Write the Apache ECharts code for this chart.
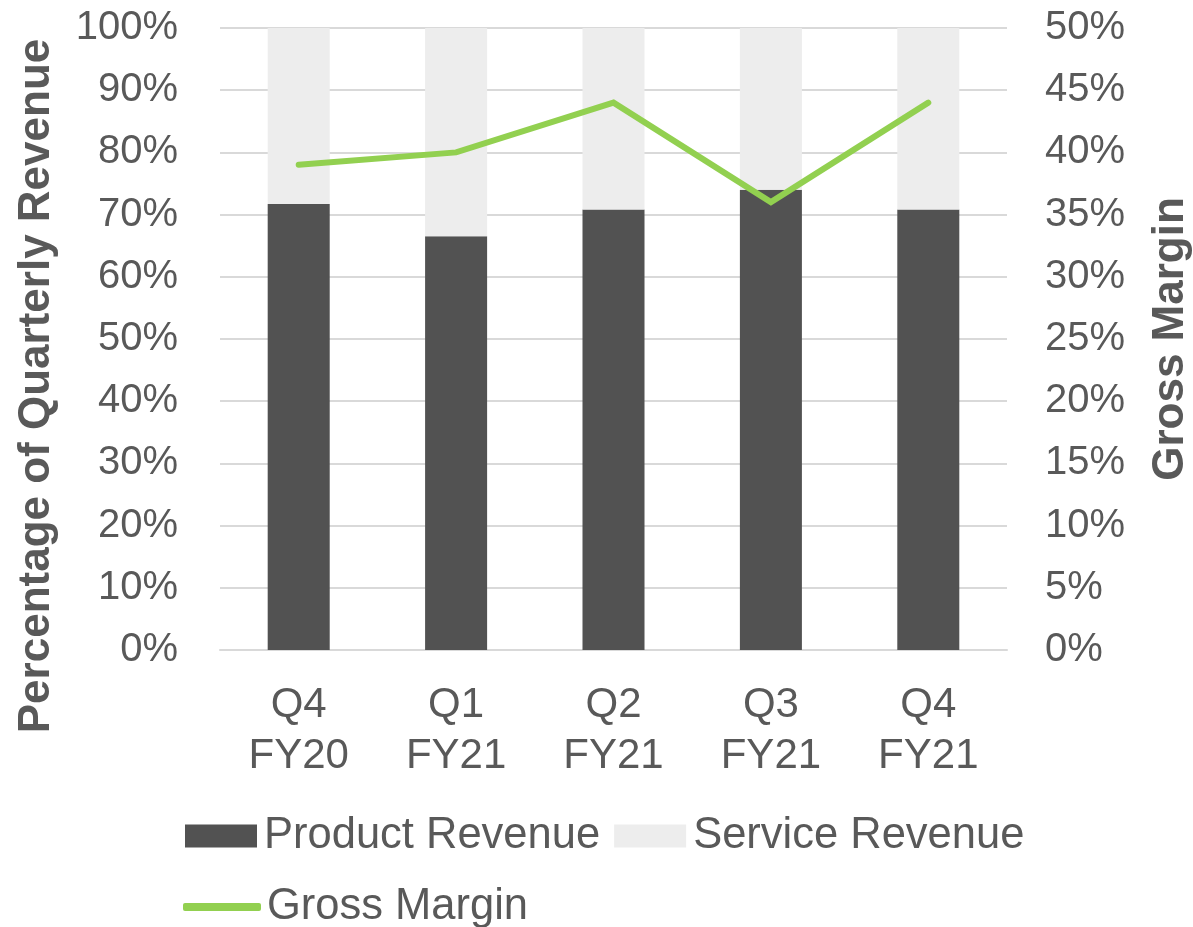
<!DOCTYPE html>
<html>
<head>
<meta charset="utf-8">
<script src="https://cdn.jsdelivr.net/npm/echarts@6/dist/echarts.min.js"></script>
<style>
html,body{margin:0;padding:0;background:#fff;overflow:hidden;}
#chart{width:1193px;height:927px;}
</style>
</head>
<body>
<div id="chart"></div>
<script>
const categories = ['Q4\nFY20', 'Q1\nFY21', 'Q2\nFY21', 'Q3\nFY21', 'Q4\nFY21'];
const productRevenue = [71.7, 66.5, 70.8, 74.0, 70.8];
const serviceRevenue = [28.3, 33.5, 29.2, 26.0, 29.2];
const grossMargin = [39.0, 40.0, 44.0, 36.0, 44.0];

const FONT = '"Liberation Sans", Arial, sans-serif';
const TXT = '#595959';

const chart = echarts.init(document.getElementById('chart'));
chart.setOption({
  animation: false,
  backgroundColor: '#fff',
  textStyle: { fontFamily: FONT },
  grid: { left: 220, right: 186, top: 28, bottom: 277, containLabel: false, outerBoundsMode: 'none' },
  legend: [{
    left: 185, top: 811, padding: 0,
    itemWidth: 72, itemHeight: 23, itemGap: 14,
    icon: 'rect',
    textStyle: { fontFamily: FONT, fontSize: 43.5, color: TXT, lineHeight: 50, padding: [0, 0, 0, 2] },
    data: ['Product Revenue', 'Service Revenue']
  }, {
    left: 183, top: 882, padding: 0,
    itemWidth: 78, itemHeight: 8, itemGap: 10,
    icon: 'roundRect',
    textStyle: { fontFamily: FONT, fontSize: 43.5, color: TXT, lineHeight: 50, padding: [0, 0, 0, 1] },
    data: ['Gross Margin']
  }],
  graphic: [{
    type: 'text',
    x: 37, y: 386,
    rotation: Math.PI / 2,
    style: {
      text: 'Percentage of Quarterly Revenue',
      font: 'bold 44px "Liberation Sans", Arial, sans-serif',
      fill: TXT,
      textAlign: 'center',
      textVerticalAlign: 'middle'
    }
  }],
  xAxis: {
    type: 'category',
    data: categories,
    axisTick: { show: false },
    axisLine: { lineStyle: { color: '#D9D9D9', width: 2 } },
    axisLabel: { fontFamily: FONT, fontSize: 42, color: TXT, lineHeight: 51, margin: 30 }
  },
  yAxis: [{
    type: 'value', min: 0, max: 100, interval: 10,
    axisLabel: { formatter: '{value}%', fontFamily: FONT, fontSize: 40, color: TXT, margin: 42 },
    axisLine: { show: false }, axisTick: { show: false },
    splitLine: { lineStyle: { color: '#D9D9D9', width: 2 } }
  }, {
    type: 'value', min: 0, max: 50, interval: 5,
    name: 'Gross Margin', nameLocation: 'middle', nameGap: 142, nameRotate: 90,
    nameTextStyle: { fontFamily: FONT, fontSize: 44, fontWeight: 'bold', color: TXT },
    axisLabel: { formatter: '{value}%', fontFamily: FONT, fontSize: 40, color: TXT, margin: 38 },
    axisLine: { show: false }, axisTick: { show: false },
    splitLine: { show: false }
  }],
  series: [{
    name: 'Product Revenue', type: 'bar', stack: 'rev', barWidth: '39.4%',
    itemStyle: { color: '#525252' },
    data: productRevenue
  }, {
    name: 'Service Revenue', type: 'bar', stack: 'rev',
    itemStyle: { color: '#EDEDED' },
    data: serviceRevenue
  }, {
    name: 'Gross Margin', type: 'line', yAxisIndex: 1,
    symbol: 'none', showSymbol: false,
    lineStyle: { color: '#92D050', width: 6, cap: 'round', join: 'miter' },
    itemStyle: { color: '#92D050' },
    data: grossMargin, z: 5
  }]
});
</script>
</body>
</html>
